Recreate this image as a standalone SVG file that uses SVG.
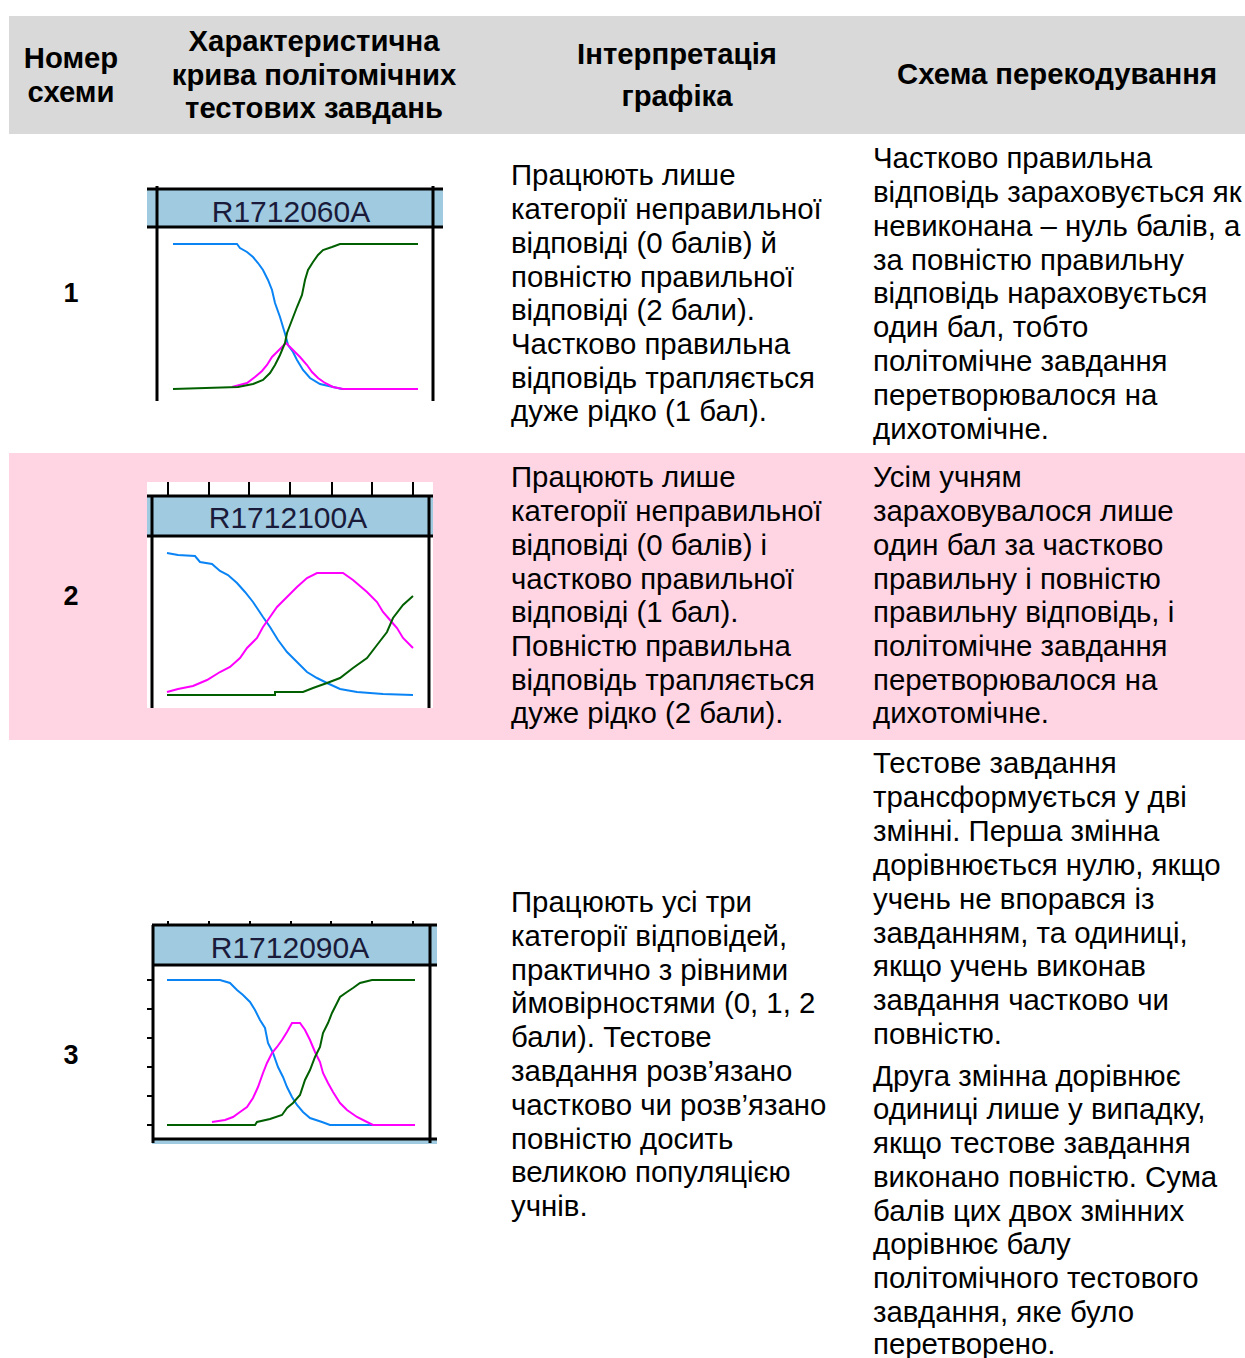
<svg xmlns="http://www.w3.org/2000/svg" width="1245" height="1358" viewBox="0 0 1245 1358">
<style>
.h{font-family:"Liberation Sans",Arial,sans-serif;font-weight:bold;font-size:29.3px;fill:#000;text-anchor:middle}
.t{font-family:"Liberation Sans",Arial,sans-serif;font-size:29.4px;fill:#000}
.n{font-family:"Liberation Sans",Arial,sans-serif;font-weight:bold;font-size:27px;fill:#000;text-anchor:middle}
.lbl{font-family:"Liberation Sans",Arial,sans-serif;font-size:30px;fill:#1a1a3a;text-anchor:middle}
.band{fill:#9fcae0}
.fr{stroke:#000;stroke-width:3;fill:none}
.tk{stroke:#000;stroke-width:2;fill:none}
.cb{stroke:#0a84f5;stroke-width:2;fill:none}
.cm{stroke:#ff00ff;stroke-width:2;fill:none}
.cg{stroke:#006000;stroke-width:2;fill:none}
</style>
<rect width="1245" height="1358" fill="#fff"/>
<g id="header">
<rect x="9" y="16" width="1236" height="118" fill="#d9d9d9"/>
<text class="h" x="71" y="68">Номер</text>
<text class="h" x="71" y="102">схеми</text>
<text class="h" x="314" y="51">Характеристична</text>
<text class="h" x="314" y="85">крива політомічних</text>
<text class="h" x="314" y="118">тестових завдань</text>
<text class="h" x="677" y="64">Інтерпретація</text>
<text class="h" x="677" y="106">графіка</text>
<text class="h" x="1057" y="84">Схема перекодування</text>
</g>
<g id="row2bg"><rect x="9" y="453" width="1236" height="287" fill="#ffd5e4"/></g>
<g id="row1">
<text class="n" x="71" y="302">1</text>
<g id="chart1">
<rect x="147" y="189" width="296" height="38" class="band"/>
<text class="lbl" x="291" y="222">R1712060A</text>
<path class="fr" d="M147 189H443M147 227H443M157 186V401M433 186V401"/>
<polyline class="cb" points="173,244 237,244 240,248 247,252 253,257 258,263 263,270 268,280 272,290 275,303 280,317 283,327 286,337 288,345 293,352 297,360 303,370 310,378 320,384 333,387 342,389 345,389"/>
<polyline class="cm" points="232,387 247,383 255,377 262,371 267,365 272,357 277,352 282,347 286,343 290,347 295,352 300,357 307,365 312,372 318,378 325,383 333,387 343,389 418,389"/>
<polyline class="cg" points="173,389 238,387 253,384 263,380 270,373 275,365 280,355 285,343 287,333 292,320 297,307 302,295 305,280 308,270 313,262 318,255 323,250 332,247 340,244 418,244"/>
</g>
<g class="t">
<text x="511" y="185">Працюють лише</text>
<text x="511" y="219">категорії неправильної</text>
<text x="511" y="253">відповіді (0 балів) й</text>
<text x="511" y="287">повністю правильної</text>
<text x="511" y="320">відповіді (2 бали).</text>
<text x="511" y="354">Частково правильна</text>
<text x="511" y="388">відповідь трапляється</text>
<text x="511" y="421">дуже рідко (1 бал).</text>
</g>
<g class="t">
<text x="873" y="168">Частково правильна</text>
<text x="873" y="202">відповідь зараховується як</text>
<text x="873" y="236">невиконана – нуль балів, а</text>
<text x="873" y="270">за повністю правильну</text>
<text x="873" y="303">відповідь нараховується</text>
<text x="873" y="337">один бал, тобто</text>
<text x="873" y="371">політомічне завдання</text>
<text x="873" y="405">перетворювалося на</text>
<text x="873" y="439">дихотомічне.</text>
</g>
</g>
<g id="row2">
<text class="n" x="71" y="605">2</text>
<g id="chart2">
<rect x="147" y="482" width="286" height="226" fill="#fff"/>
<rect x="147" y="496" width="286" height="40" class="band"/>
<path class="tk" d="M168 482V496M209 482V496M249 482V496M290 482V496M332 482V496M372 482V496M413 482V496"/>
<text class="lbl" x="288" y="528">R1712100A</text>
<path class="fr" d="M147 496H433M147 536H433M152 496V708M429 496V708"/>
<polyline class="cb" points="167,553 178,555 195,556 200,562 212,564 220,571 228,575 237,583 245,592 253,602 263,617 270,627 278,640 287,652 297,662 307,672 317,678 327,683 340,689 357,692 383,694 413,695"/>
<polyline class="cm" points="167,692 178,689 193,686 207,680 220,672 230,667 240,658 247,648 257,638 263,627 270,617 277,607 287,597 297,587 307,578 317,573 343,573 353,580 367,592 377,602 383,612 390,620 397,628 403,638 413,648"/>
<polyline class="cg" points="167,695 275,695 275,692 303,692 313,688 327,683 340,678 353,668 367,658 377,645 387,632 393,618 403,605 413,596"/>
</g>
<g class="t">
<text x="511" y="487">Працюють лише</text>
<text x="511" y="521">категорії неправильної</text>
<text x="511" y="555">відповіді (0 балів) і</text>
<text x="511" y="589">частково правильної</text>
<text x="511" y="622">відповіді (1 бал).</text>
<text x="511" y="656">Повністю правильна</text>
<text x="511" y="690">відповідь трапляється</text>
<text x="511" y="723">дуже рідко (2 бали).</text>
</g>
<g class="t">
<text x="873" y="487">Усім учням</text>
<text x="873" y="521">зараховувалося лише</text>
<text x="873" y="555">один бал за частково</text>
<text x="873" y="589">правильну і повністю</text>
<text x="873" y="622">правильну відповідь, і</text>
<text x="873" y="656">політомічне завдання</text>
<text x="873" y="690">перетворювалося на</text>
<text x="873" y="723">дихотомічне.</text>
</g>
</g>
<g id="row3">
<text class="n" x="71" y="1064">3</text>
<g id="chart3">
<rect x="152" y="925" width="285" height="40" class="band"/>
<rect x="152" y="1140" width="285" height="4" class="band"/>
<path class="tk" d="M168 921V925M209 921V925M250 921V925M291 921V925M331 921V925M372 921V925M413 921V925M147 980H152M147 1009H152M147 1038H152M147 1067H152M147 1096H152M147 1125H152"/>
<text class="lbl" x="290" y="958">R1712090A</text>
<path class="fr" d="M152 925H437M152 965H437M152 1139H437M153 925V1143M430 925V1143"/>
<polyline class="cb" points="167,980 220,980 230,983 237,990 243,995 250,1002 255,1010 260,1020 265,1028 268,1043 273,1053 278,1067 283,1077 287,1087 292,1097 297,1105 303,1112 310,1118 322,1122 330,1125 415,1125"/>
<polyline class="cm" points="212,1122 225,1120 233,1117 240,1112 247,1107 253,1098 258,1087 263,1073 267,1063 272,1053 277,1047 282,1040 287,1032 292,1023 300,1023 305,1030 310,1040 315,1052 320,1062 323,1073 328,1083 333,1092 340,1103 347,1110 357,1117 367,1122 373,1125 415,1125"/>
<polyline class="cg" points="167,1125 255,1125 257,1122 270,1119 282,1115 287,1108 293,1103 300,1095 305,1080 310,1070 315,1057 320,1047 323,1033 328,1023 332,1013 337,1003 340,997 347,992 353,988 360,983 372,980 415,980"/>
</g>
<g class="t">
<text x="511" y="912">Працюють усі три</text>
<text x="511" y="946">категорії відповідей,</text>
<text x="511" y="980">практично з рівними</text>
<text x="511" y="1013">ймовірностями (0, 1, 2</text>
<text x="511" y="1047">бали). Тестове</text>
<text x="511" y="1081">завдання розв’язано</text>
<text x="511" y="1115">частково чи розв’язано</text>
<text x="511" y="1149">повністю досить</text>
<text x="511" y="1182">великою популяцією</text>
<text x="511" y="1216">учнів.</text>
</g>
<g class="t">
<text x="873" y="773">Тестове завдання</text>
<text x="873" y="807">трансформується у дві</text>
<text x="873" y="841">змінні. Перша змінна</text>
<text x="873" y="875">дорівнюється нулю, якщо</text>
<text x="873" y="909">учень не впорався із</text>
<text x="873" y="943">завданням, та одиниці,</text>
<text x="873" y="976">якщо учень виконав</text>
<text x="873" y="1010">завдання частково чи</text>
<text x="873" y="1044">повністю.</text>
<text x="873" y="1086">Друга змінна дорівнює</text>
<text x="873" y="1119">одиниці лише у випадку,</text>
<text x="873" y="1153">якщо тестове завдання</text>
<text x="873" y="1187">виконано повністю. Сума</text>
<text x="873" y="1221">балів цих двох змінних</text>
<text x="873" y="1254">дорівнює балу</text>
<text x="873" y="1288">політомічного тестового</text>
<text x="873" y="1322">завдання, яке було</text>
<text x="873" y="1354">перетворено.</text>
</g>
</g>
</svg>
